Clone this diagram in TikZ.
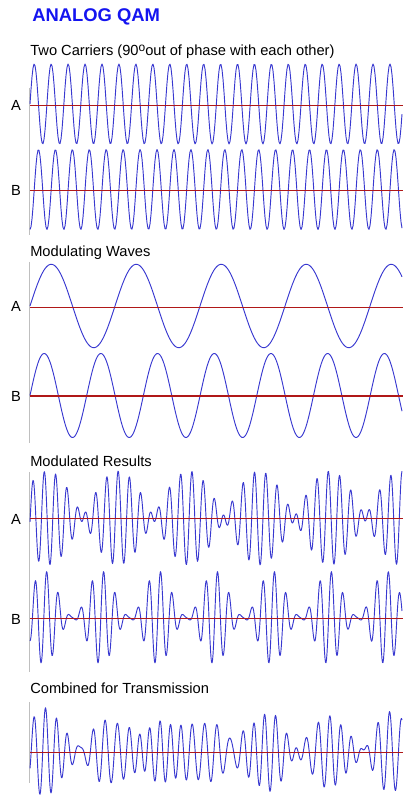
\documentclass[tikz,border=0pt]{standalone}
\usepackage{fontspec}
\setmainfont{Liberation Sans}
\usepackage{tikz}
\usetikzlibrary{positioning}
\definecolor{wavblue}{RGB}{56,56,208}
\definecolor{axred}{RGB}{176,24,24}
\definecolor{ttlblue}{RGB}{20,20,240}
\tikzset{
  wave/.style={wavblue,line width=0.7pt,line join=round},
  zline/.style={axred,line width=0.8pt},            % zero line
  yaxis/.style={black!25,line width=0.75pt},        % grey left edge
  lbl/.style={font=\fontsize{11}{13}\selectfont,inner sep=0pt},
  ttl/.style={font=\fontsize{11}{13}\selectfont,anchor=base west,inner sep=0pt},
}

\begin{document}
\begin{tikzpicture}[x=0.75pt,y=-0.75pt,
  declare function={
    resA(\t)=25*cos(34.24*(\t-44.3)-8.2)+22*cos(29.14*(\t-44.3)+8.2);
    resB(\t)=(24+22.8*sin(6.3236*(\t-30)))*sin(31.607*(\t-43.85));
  }]
  \useasboundingbox (0,0) rectangle (418,805);
  % titles
  \node[anchor=base west,inner sep=0pt,text=ttlblue,
    font=\fontsize{13.8}{16}\selectfont\bfseries] (title) at (32,22) {ANALOG QAM};
  \node[ttl] (carr) at (30,56) {Two Carriers (90\raisebox{0.55ex}{\fontsize{9}{10}\selectfont o}out of phase with each other)};
  \node[ttl] (modw) at (30,257) {Modulating Waves};
  \node[ttl] (modr) at (30,466) {Modulated Results};
  \node[ttl] (comb) at (30,693) {Combined for Transmission};
  % grey left edges
  \foreach \ya/\yb in {88/235,262/443,472/672,702/783}
    \draw[yaxis] (29.7,\ya) -- (29.7,\yb);
  % carriers (21.251 deg per px)
  \draw[wave] plot[domain=30:402,samples=373] (\x,{104-40*sin(21.251*(\x-30))});
  \draw[wave] plot[domain=30:402,samples=373] (\x,{189.5+40*cos(21.251*(\x-30))});
  % modulating waves
  \draw[wave] plot[domain=30:402,samples=373] (\x,{306-41.7*sin(4.2353*(\x-30))});
  \draw[wave] plot[domain=30:402,samples=373] (\x,{395.5-42*sin(6.3492*(\x-30))});
  % modulated results and their sum
  \draw[wave] plot[domain=30:402,samples=745] (\x,{518-resA(\x)});
  \draw[wave] plot[domain=30:402,samples=745] (\x,{617.5-resB(\x)});
  \draw[wave] plot[domain=30:402,samples=745] (\x,{752-0.6*(resA(\x)+resB(\x))});
  % zero lines
  \foreach \yy in {105.3,190.3,307.3,396,518.3,618.3,752.3}
    \draw[zline] (30,\yy) -- (403,\yy);
  % A / B labels
  \foreach \yy/\lab [count=\i] in {105/A,190/B,306/A,396/B,519/A,619/B}
    \node[lbl] (lab\i) at (16,\yy) {\lab};
\end{tikzpicture}
\end{document}
